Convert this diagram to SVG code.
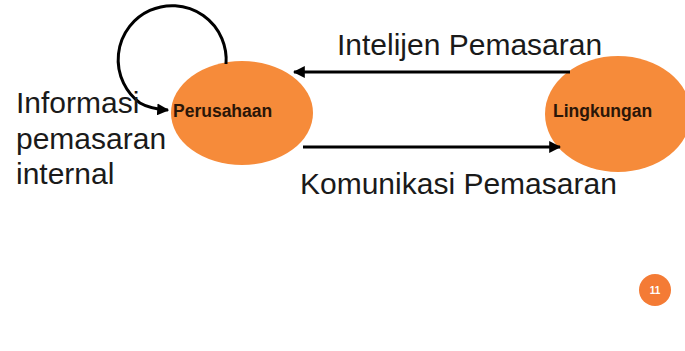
<svg xmlns="http://www.w3.org/2000/svg" width="685" height="351" viewBox="0 0 685 351">
<defs>
<style>
.node{fill:#F68B3A;}
.lbl{font-family:"Liberation Sans",Arial,sans-serif;font-weight:bold;font-size:17.5px;fill:#2a1608;}
.big{font-family:"Liberation Sans",Arial,sans-serif;font-size:30px;fill:#1a1a1a;}
.conn{fill:none;stroke:#000;stroke-width:3;}
</style>
<marker id="ah" viewBox="0 0 10 10" refX="9" refY="5" markerWidth="4" markerHeight="4" orient="auto" markerUnits="strokeWidth">
<path d="M0,0 L10,5 L0,10 z" fill="#000"/>
</marker>
</defs>
<rect width="685" height="351" fill="#fff"/>
<g id="perusahaan">
<ellipse class="node" cx="242" cy="113" rx="71" ry="52"/>
<text class="lbl" x="173" y="117">Perusahaan</text>
</g>
<g id="lingkungan">
<ellipse class="node" cx="618" cy="114" rx="73" ry="58"/>
<text class="lbl" x="553" y="117">Lingkungan</text>
</g>
<g id="connectors">
<path class="conn" d="M570,72 L294,72" marker-end="url(#ah)"/>
<path class="conn" d="M303,147 L560,147" marker-end="url(#ah)"/>
<path class="conn" d="M226,64 A54,54 0 1 0 140,103 Q150,109 168,110" marker-end="url(#ah)"/>
</g>
<g id="labels">
<text class="big" x="337" y="55">Intelijen Pemasaran</text>
<text class="big" x="300" y="194">Komunikasi Pemasaran</text>
<text class="big" x="16" y="113">Informasi</text>
<text class="big" x="16" y="149">pemasaran</text>
<text class="big" x="16" y="184">internal</text>
</g>
<g id="page-number">
<circle cx="655" cy="290" r="16" fill="#F47B35"/>
<text x="655" y="294" text-anchor="middle" font-family="Liberation Sans,Arial,sans-serif" font-weight="bold" font-size="10" fill="#fff">11</text>
</g>
</svg>
